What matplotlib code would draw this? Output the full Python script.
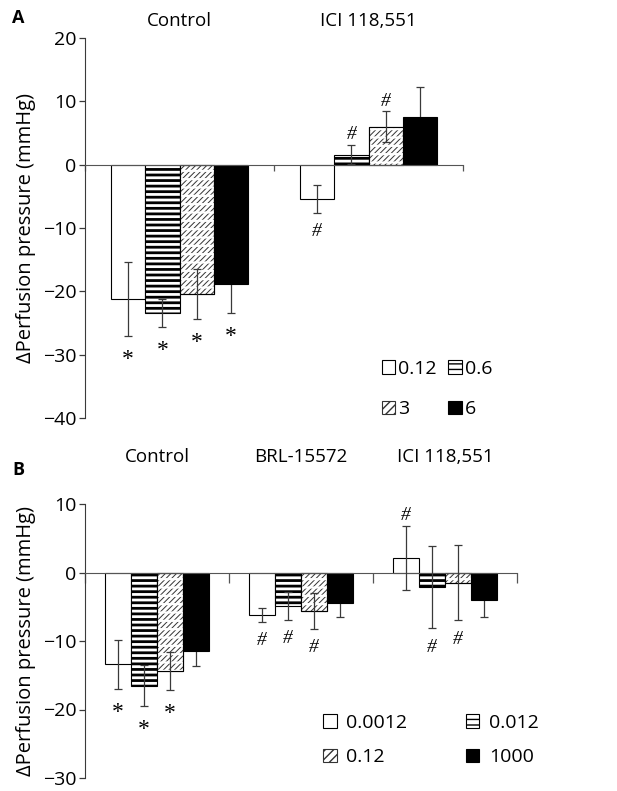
"""Perfusion pressure responses, panels A and B, grouped hatched bars."""

import matplotlib

matplotlib.use("Agg")
import matplotlib.pyplot as plt
import numpy as np
from matplotlib.patches import Patch
from matplotlib.transforms import offset_copy

plt.rcParams["font.family"] = ["Open Sans", "DejaVu Sans"]

# Panel A data
A_GROUPS = ["Control", "ICI 118,551"]
A_DOSES = ["0.12", "0.6", "3", "6"]
A_MEAN = [[-21.2, -23.4, -20.4, -18.9], [-5.4, 1.6, 6.0, 7.6]]
A_ERR = [[5.9, 2.2, 3.9, 4.5], [2.2, 1.5, 2.4, 4.6]]
A_MARK = [["*", "*", "*", "*"], ["#", "#", "#", ""]]

# Panel B data
B_GROUPS = ["Control", "BRL-15572", "ICI 118,551"]
B_DOSES = ["0.0012", "0.012", "0.12", "1000"]
B_MEAN = [
    [-13.4, -16.5, -14.4, -11.5],
    [-6.2, -4.9, -5.6, -4.5],
    [2.1, -2.1, -1.5, -4.0],
]
B_ERR = [[3.6, 3.0, 2.8, 2.2], [1.0, 2.0, 2.6, 2.0], [4.7, 6.0, 5.5, 2.5]]
B_MARK = [["*", "*", "*", ""], ["#", "#", "#", ""], ["#", "#", "#", ""]]

AXC = "#3a3a3a"
FS = 13.5
TICK_FS = 14


def set_hlw(bars, lw):
    for b in bars:
        if hasattr(b, "set_hatch_linewidth"):
            b.set_hatch_linewidth(lw)


def style_bars(ax, x, h, width, dose):
    """Draw one dose series in its style."""
    if dose == 0:
        ax.bar(x, h, width, color="white", edgecolor="black", lw=0.8, zorder=2)
    elif dose == 1:
        with plt.rc_context({"hatch.linewidth": 2.0}):
            bars = ax.bar(x, h, width, color="white", edgecolor="black",
                          lw=0.8, hatch="---", zorder=2)
        set_hlw(bars, 2.0)
    elif dose == 2:
        with plt.rc_context({"hatch.linewidth": 0.7}):
            bars = ax.bar(x, h, width, color="white", edgecolor="#333333",
                          lw=0.8, hatch="//////", zorder=2)
        set_hlw(bars, 0.7)
        with plt.rc_context({"hatch.linewidth": 1.6}):
            gaps = ax.bar(x, h, width, fill=False, edgecolor="white", lw=0,
                          hatch="--", zorder=2.1)
        set_hlw(gaps, 1.6)
        ax.bar(x, h, width, fill=False, edgecolor="black", lw=0.8, zorder=2.2)
    else:
        ax.bar(x, h, width, color="black", edgecolor="black", lw=0.8, zorder=2)


def legend_handles(doses):
    hs = [
        Patch(facecolor="white", edgecolor="black", lw=0.8),
        Patch(facecolor="white", edgecolor="black", lw=0.8, hatch="---"),
        Patch(facecolor="white", edgecolor="#333333", lw=0.8, hatch="////"),
        Patch(facecolor="black", edgecolor="black", lw=0.8),
    ]
    # legend fills column-wise; reorder so rows read 1,2 / 3,4
    order = [0, 2, 1, 3]
    return [hs[i] for i in order], [doses[i] for i in order]


def draw_panel(fig, ax, groups, doses, means, errs, marks, width, ylim,
               tick_len):
    means = np.array(means)
    errs = np.array(errs)
    ng = len(groups)
    centers = np.arange(ng) + 0.5
    down_star = offset_copy(ax.transData, fig=fig, x=0, y=-21, units="points")
    down_hash = offset_copy(ax.transData, fig=fig, x=0, y=-17, units="points")
    up_hash = offset_copy(ax.transData, fig=fig, x=0, y=4, units="points")
    for d in range(len(doses)):
        x = centers + (d - 1.5) * width
        style_bars(ax, x, means[:, d], width, d)
        ax.errorbar(x, means[:, d], yerr=errs[:, d], fmt="none",
                    ecolor=AXC, elinewidth=0.9, capsize=3.2, capthick=0.9,
                    zorder=1.5 if d == 3 else 3)
        for g in range(ng):
            sym = marks[g][d]
            if not sym:
                continue
            m, e = means[g, d], errs[g, d]
            kw = dict(ha="center", va="baseline", family="Liberation Serif")
            if sym == "#":
                kw.update(fontsize=14, style="italic")
            else:
                kw.update(fontsize=17)
            if m > 0:
                ax.text(x[g], m + e, sym, transform=up_hash, **kw)
            else:
                tr = down_star if sym == "*" else down_hash
                ax.text(x[g], m - e, sym, transform=tr, **kw)

    ax.set_xlim(0, ng)
    ax.set_ylim(*ylim)
    ax.set_yticks(np.arange(ylim[0], ylim[1] + 1, 10))
    ax.set_xticks(np.arange(ng + 1))
    ax.set_xticklabels([])
    ax.spines["top"].set_visible(False)
    ax.spines["right"].set_visible(False)
    ax.spines["bottom"].set_position(("data", 0))
    ax.spines["bottom"].set_color("#555555")
    ax.spines["left"].set_color(AXC)
    ax.tick_params(axis="y", direction="out", length=4, width=0.9,
                   color=AXC, labelsize=TICK_FS, pad=2)
    ax.tick_params(axis="x", direction="out", length=tick_len, width=0.9,
                   color="#555555")
    labels = []
    for g, name in enumerate(groups):
        labels.append(ax.text(centers[g], 1.0, name,
                              transform=ax.get_xaxis_transform(),
                              ha="center", va="center", fontsize=FS))
    ax.set_ylabel("\u0394Perfusion pressure (mmHg)", fontsize=14.5)
    return labels


fig = plt.figure(figsize=(6.17, 7.91), dpi=100)

axA = fig.add_axes([85 / 617, 1 - 418 / 791, 378 / 617, 380 / 791])
labs = draw_panel(fig, axA, A_GROUPS, A_DOSES, A_MEAN, A_ERR, A_MARK, 0.182,
                  (-40, 20), 4.5)
for t in labs:
    t.set_y(1 + 17 / 380)
axA.yaxis.set_label_coords(-0.13, 0.5)
hs, ls = legend_handles(A_DOSES)
axA.legend(hs, ls, ncol=2, frameon=False, fontsize=14, loc="center",
           bbox_to_anchor=(437 / 617, 1 - 389 / 791),
           bbox_transform=fig.transFigure, handlelength=0.7,
           handleheight=0.7, handletextpad=0.15, columnspacing=0.6,
           labelspacing=1.15, borderpad=0)

axB = fig.add_axes([85 / 617, 1 - 778 / 791, 432 / 617, 274 / 791])
labs = draw_panel(fig, axB, B_GROUPS, B_DOSES, B_MEAN, B_ERR, B_MARK, 0.18,
                  (-30, 10), 7)
for t in labs:
    t.set_y(1 + 47 / 274)
axB.yaxis.set_label_coords(-0.114, 0.5)
hs, ls = legend_handles(B_DOSES)
axB.legend(hs, ls, ncol=2, frameon=False, fontsize=14, loc="center",
           bbox_to_anchor=(431 / 617, 1 - 740 / 791),
           bbox_transform=fig.transFigure, handlelength=0.7,
           handleheight=0.7, handletextpad=0.5, columnspacing=3.0,
           labelspacing=0.85, borderpad=0)

fig.text(12 / 617, 1 - 18 / 791, "A", fontsize=13, fontweight="bold",
         ha="left", va="center")
fig.text(12 / 617, 1 - 470 / 791, "B", fontsize=13, fontweight="bold",
         ha="left", va="center")

fig.savefig("out.png", dpi=100)
